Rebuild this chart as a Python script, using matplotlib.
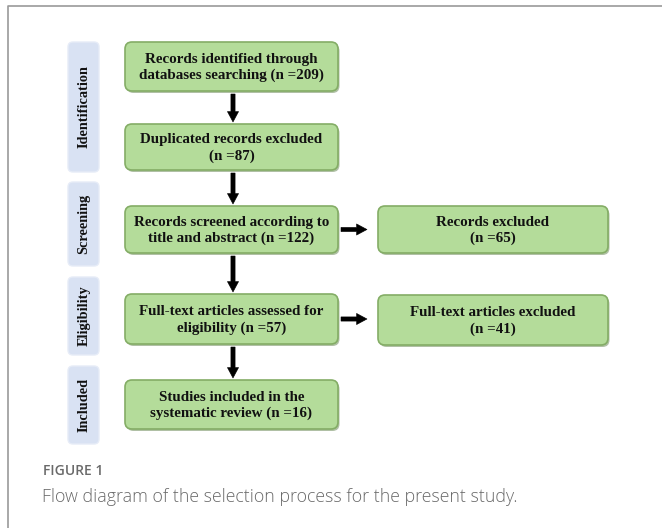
import matplotlib.pyplot as plt
from matplotlib.patches import FancyBboxPatch

# etapas a la izquierda
etapas = ['Identification', 'Screening', 'Eligibility', 'Included']
etapas_y = [(42, 172), (182, 266), (277, 355), (366, 444)]

# cajas de la columna central
cajas_centro = [
    'Records identified through\ndatabases searching (n =209)',
    'Duplicated records excluded\n(n =87)',
    'Records screened according to\ntitle and abstract (n =122)',
    'Full-text articles assessed for\neligibility (n =57)',
    'Studies included in the\nsystematic review (n =16)',
]
cajas_centro_y = [(42, 91), (124, 170), (206, 253), (294, 344), (380, 429)]

# cajas de excluidos a la derecha
cajas_der = ['Records excluded\n(n =65)', 'Full-text articles excluded\n(n =41)']
cajas_der_y = [(206, 253), (295, 345)]

titulo_fig = 'FIGURE 1'
leyenda = 'Flow diagram of the selection process for the present study.'

VERDE = '#b4dc9a'
BORDE = '#84ad66'
SOMBRA = '#6f8d5c'
AZUL = '#d9e2f3'

fig = plt.figure(figsize=(6.62, 5.28), dpi=100)
ax = fig.add_axes([0, 0, 1, 1])
ax.set_xlim(0, 662)
ax.set_ylim(528, 0)
ax.axis('off')

# marco gris (abierto a la derecha y abajo)
ax.plot([7.5, 7.5, 662], [528, 6, 6], color='#9a9a9a', lw=1.2)


def caja(x0, x1, y0, y1, texto):
    sombra = FancyBboxPatch((x0 + 1.5, y0 + 2), x1 - x0, y1 - y0,
                            boxstyle='round,pad=0,rounding_size=7',
                            fc=SOMBRA, ec='none', alpha=0.55)
    ax.add_patch(sombra)
    p = FancyBboxPatch((x0, y0), x1 - x0, y1 - y0,
                       boxstyle='round,pad=0,rounding_size=7',
                       fc=VERDE, ec=BORDE, lw=1.2)
    ax.add_patch(p)
    ax.text((x0 + x1) / 2, (y0 + y1) / 2 + 1, texto, ha='center', va='center',
            family='Liberation Serif', weight='bold', fontsize=10.8,
            linespacing=1.3, color='#111111')


def flecha(x0, y0, x1, y1):
    ax.annotate('', xy=(x1, y1), xytext=(x0, y0),
                arrowprops=dict(arrowstyle='simple,head_length=0.75,head_width=0.8,tail_width=0.3',
                                fc='black', ec='black', lw=0.4, shrinkA=0, shrinkB=0))


for nombre, (y0, y1) in zip(etapas, etapas_y):
    p = FancyBboxPatch((68, y0), 31, y1 - y0,
                       boxstyle='round,pad=0,rounding_size=5',
                       fc=AZUL, ec='#e6ecf7', lw=1.0)
    ax.add_patch(p)
    ax.text(84, (y0 + y1) / 2, nombre, rotation=90, ha='center', va='center',
            family='Liberation Serif', weight='bold', fontsize=10.3, color='#111111')

for texto, (y0, y1) in zip(cajas_centro, cajas_centro_y):
    caja(125, 338, y0, y1, texto)

for texto, (y0, y1) in zip(cajas_der, cajas_der_y):
    caja(378, 608, y0, y1, texto)

# flechas verticales
for (a0, a1), (b0, b1) in zip(cajas_centro_y[:-1], cajas_centro_y[1:]):
    flecha(233, a1 + 3, 233, b0 - 2)

# flechas horizontales
for (y0, y1) in [cajas_centro_y[2], cajas_centro_y[3]]:
    flecha(341, (y0 + y1) / 2, 367, (y0 + y1) / 2)

ax.text(43, 471, titulo_fig, ha='left', va='center', family='Open Sans',
        fontsize=10, weight='semibold', color='#6a6a6a')
ax.text(42, 497, leyenda, ha='left', va='center', family='Open Sans',
        fontsize=12.8, weight='light', color='#6a6a6a')

fig.savefig('out.png', dpi=100)
